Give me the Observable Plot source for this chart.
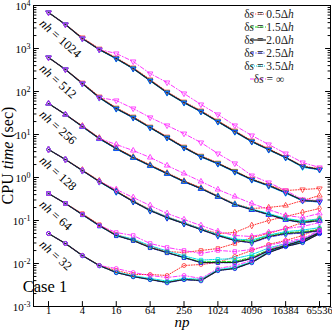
<!DOCTYPE html>
<html>
<head>
<meta charset="utf-8">
<script src="https://cdn.jsdelivr.net/npm/d3@7"></script>
<script src="https://cdn.jsdelivr.net/npm/@observablehq/plot@0.6"></script>
<style>
html,body{margin:0;padding:0;background:#fff;}
#chart svg{display:block;}
</style>
</head>
<body>
<div id="chart"></div>
<script>
// ---------------- data ----------------
const np = [1,2,4,8,16,32,64,128,256,512,1024,2048,4096,8192,16384,32768,65536];
const nhValues = [1024,512,256,128,64,32];
const seriesKeys = ["d05","d15","d20","d25","d35","dinf"];
const seriesLabels = ["0.5Δh","1.5Δh","2.0Δh","2.5Δh","3.5Δh","∞"];
const xTickValues = [1,4,16,64,256,1024,4096,16384,65536];
const yExponents = [-3,-2,-1,0,1,2,3,4];
const caseLabel = "Case 1";

const t1024_d05 = [6870,3610,1800,990,610,360,190,99,58,36,21,12.3,7.2,4.7,3.0,1.85,1.6];
const t1024_d15 = [6870,3610,1710,947,585,343,180,94.8,55.5,34.3,20.1,11.7,6.87,4.48,2.92,1.80,1.54];
const t1024_d20 = [6870,3610,1710,947,585,343,180,94.8,55.5,34.3,20.1,11.7,6.87,4.48,2.92,1.80,1.54];
const t1024_d25 = [6870,3610,1700,940,580,340,178,94,55,34,19.8,11.5,6.8,4.4,2.9,1.78,1.52];
const t1024_d35 = [6870,3610,1680,930,570,335,175,92,54,33.5,19.5,11.3,6.7,4.35,2.85,1.72,1.50];
const t1024_dinf = [6870,3610,1710,947,765,498,262,162,89.8,49.8,29.2,16.2,9.47,5.85,3.61,2.23,1.71];

const t512_d05 = [617,325,160,76,42,26,15.2,8.9,5.2,3.2,2.2,1.42,0.93,0.67,0.498,0.526,0.555];
const t512_d15 = [617,325,154,72.5,40.2,24.9,14.6,8.51,4.98,3.08,2.12,1.38,0.898,0.651,0.448,0.30,0.285];
const t512_d20 = [617,325,154,72.5,40.2,24.9,14.6,8.51,4.98,3.08,2.12,1.38,0.898,0.651,0.448,0.292,0.277];
const t512_d25 = [617,325,152,71.5,39.6,24.5,14.4,8.4,4.9,3.02,2.08,1.35,0.88,0.64,0.44,0.29,0.27];
const t512_d35 = [617,325,150,70.5,39,24.2,14.2,8.3,4.85,3.0,2.05,1.33,0.87,0.63,0.43,0.285,0.268];
const t512_dinf = [617,325,154,72.5,61.7,40.2,24.9,16.2,10.5,6.51,3.61,2.12,1.11,0.765,0.498,0.308,0.292];

const t256_d05 = [52.6,29.2,16.0,8.4,4.9,3.05,1.98,1.29,0.84,0.58,0.375,0.245,0.190,0.201,0.223,0.292,0.381];
const t256_d15 = [52.6,29.2,15.4,8.07,4.72,2.92,1.90,1.24,0.807,0.555,0.361,0.236,0.180,0.14,0.11,0.095,0.105];
const t256_d20 = [52.6,29.2,15.4,8.07,4.72,2.92,1.90,1.24,0.807,0.555,0.361,0.236,0.180,0.138,0.105,0.0898,0.1];
const t256_d25 = [52.6,29.2,15.2,7.95,4.65,2.88,1.87,1.22,0.795,0.545,0.355,0.232,0.176,0.135,0.103,0.088,0.098];
const t256_d35 = [52.6,29.2,15.0,7.85,4.6,2.85,1.85,1.21,0.79,0.55,0.365,0.24,0.185,0.145,0.112,0.098,0.11];
const t256_dinf = [52.6,29.2,15.4,8.07,5.85,4.24,2.92,1.90,1.24,0.807,0.526,0.361,0.249,0.180,0.131,0.117,0.146];

const t128_d05 = [4.48,2.62,1.5,0.84,0.49,0.29,0.18,0.122,0.089,0.065,0.0498,0.0526,0.0765,0.1,0.124,0.154,0.190];
const t128_d15 = [4.48,2.62,1.455,0.807,0.472,0.277,0.171,0.117,0.0852,0.0617,0.046,0.036,0.033,0.045,0.052,0.055,0.062];
const t128_d20 = [4.48,2.62,1.455,0.807,0.472,0.277,0.171,0.117,0.0852,0.0617,0.0448,0.0343,0.0308,0.0424,0.0498,0.0526,0.0585];
const t128_d25 = [4.48,2.62,1.44,0.80,0.465,0.273,0.168,0.115,0.084,0.061,0.044,0.034,0.030,0.041,0.048,0.051,0.057];
const t128_d35 = [4.48,2.62,1.43,0.79,0.46,0.28,0.176,0.121,0.088,0.064,0.047,0.037,0.035,0.046,0.055,0.060,0.068];
const t128_dinf = [4.48,2.62,1.455,0.807,0.526,0.343,0.223,0.146,0.105,0.0765,0.0555,0.0448,0.0424,0.0526,0.0651,0.0725,0.0898];

const t64_d05 = [0.424,0.249,0.145,0.08,0.047,0.036,0.025,0.019,0.0180,0.0201,0.0223,0.0292,0.0402,0.0498,0.0651,0.0898,0.111];
const t64_d15 = [0.424,0.249,0.138,0.0765,0.0448,0.0343,0.0236,0.0180,0.0138,0.011,0.011,0.0112,0.014,0.021,0.027,0.035,0.054];
const t64_d20 = [0.424,0.249,0.138,0.0765,0.0448,0.0343,0.0236,0.0180,0.0138,0.01055,0.01055,0.01055,0.0131,0.0201,0.0262,0.0343,0.0526];
const t64_d25 = [0.424,0.249,0.136,0.075,0.044,0.034,0.0232,0.0177,0.0136,0.0104,0.0104,0.0104,0.0128,0.0197,0.0258,0.034,0.052];
const t64_d35 = [0.424,0.249,0.135,0.074,0.046,0.037,0.026,0.0195,0.015,0.012,0.0125,0.013,0.016,0.023,0.029,0.036,0.056];
const t64_dinf = [0.424,0.249,0.138,0.0765,0.0526,0.0448,0.0292,0.0236,0.0201,0.0171,0.0201,0.0190,0.0212,0.0262,0.0325,0.0381,0.0585];

const t32_d05 = [0.0498,0.0292,0.0154,0.00898,0.00687,0.00555,0.00555,0.00526,0.00898,0.00948,0.01055,0.01455,0.0201,0.0277,0.0343,0.0448,0.0651];
const t32_d15 = [0.0498,0.0292,0.0154,0.00898,0.00617,0.00498,0.00424,0.0037,0.0043,0.0041,0.007,0.0078,0.0108,0.0185,0.0255,0.0315,0.051];
const t32_d20 = [0.0498,0.0292,0.0154,0.00898,0.00617,0.00498,0.00424,0.00361,0.00424,0.00402,0.00687,0.00765,0.01055,0.0180,0.0249,0.0308,0.0498];
const t32_d25 = [0.0498,0.0292,0.0152,0.0089,0.0061,0.0049,0.0042,0.00355,0.0042,0.00395,0.0068,0.0076,0.0104,0.0178,0.0246,0.0305,0.049];
const t32_d35 = [0.0498,0.0292,0.0152,0.0088,0.0064,0.0052,0.0045,0.0039,0.0045,0.0043,0.0072,0.0082,0.011,0.019,0.026,0.033,0.053];
const t32_dinf = [0.0498,0.0292,0.0154,0.00898,0.00765,0.00617,0.00526,0.00472,0.00526,0.00448,0.00765,0.00898,0.0117,0.0212,0.0292,0.0361,0.0555];

const seriesData = {
  1024: [t1024_d05,t1024_d15,t1024_d20,t1024_d25,t1024_d35,t1024_dinf],
  512: [t512_d05,t512_d15,t512_d20,t512_d25,t512_d35,t512_dinf],
  256: [t256_d05,t256_d15,t256_d20,t256_d25,t256_d35,t256_dinf],
  128: [t128_d05,t128_d15,t128_d20,t128_d25,t128_d35,t128_dinf],
  64: [t64_d05,t64_d15,t64_d20,t64_d25,t64_d35,t64_dinf],
  32: [t32_d05,t32_d15,t32_d20,t32_d25,t32_d35,t32_dinf]
};

// ---------------- styles ----------------
const FONT = "'Liberation Serif', 'Times New Roman', serif";
const sty = {
  d05: {stroke:"#ff3030", dash:"1,1.6", width:1, marker:true},
  d15: {stroke:"#00d800", dash:"3.5,1.5", width:0.9, marker:true},
  d20: {stroke:"#202020", dash:null, width:1.2, marker:false},
  d25: {stroke:"#1010ff", dash:"4,1.5,1,1.5", width:0.9, marker:true},
  d35: {stroke:"#00dcea", dash:"3,1,1,1,1,1", width:1, marker:true},
  dinf: {stroke:"#ff20ff", dash:"4,2,1,2", width:0.9, marker:true}
};
const symbolFor = {1024:"triangle",512:"triangle",256:"triangle",128:"diamond",64:"square",32:"circle"};
const rotateFor = {1024:180,512:180,256:0,128:0,64:0,32:0};

const rows = [];
for (const nh of nhValues) {
  seriesKeys.forEach((s, i) => {
    seriesData[nh][i].forEach((t, k) => rows.push({nh, s, np: np[k], t}));
  });
}
const drawOrder = ["d05","d15","d35","d25","dinf","d20"];

const yMajor = yExponents.map(e => Math.pow(10, e));
const yMinor = [];
for (let e = -3; e < 4; e++) for (let m = 2; m <= 9; m++) yMinor.push(m * Math.pow(10, e));

const tickShape = {draw(context, l) { context.moveTo(0, 0); context.lineTo(0, -l); }};
const vtick = (data, opts) => Plot.vector(data, {anchor: "start", shape: tickShape, stroke: "#000", strokeWidth: 1, ...opts});

const groupLabels = nhValues.map(nh => ({nh, np: np[0], t: seriesData[nh][2][0]}));

const chart = Plot.plot({
  width: 332, height: 330,
  marginLeft: 33, marginRight: 2, marginTop: 5, marginBottom: 24,
  style: {fontFamily: FONT, fontSize: "11px", background: "#fff", overflow: "visible"},
  x: {type: "log", domain: [0.541, 102760], axis: null},
  y: {type: "log", domain: [1e-3, 1e4], axis: null},
  marks: [
    ...drawOrder.map(s => Plot.line(rows.filter(r => r.s === s), {
      x: "np", y: "t", z: "nh", stroke: sty[s].stroke, strokeWidth: sty[s].width,
      strokeDasharray: sty[s].dash
    })),
    ...drawOrder.filter(s => sty[s].marker).map(s => Plot.dot(rows.filter(r => r.s === s), {
      x: "np", y: "t", symbol: r => symbolFor[r.nh], rotate: r => rotateFor[r.nh],
      stroke: sty[s].stroke, fill: "none", r: 2, strokeWidth: 0.8
    })),
    Plot.frame({stroke: "#000", strokeWidth: 1}),
    vtick(yMajor, {y: d => d, frameAnchor: "left", rotate: 90, length: 5}),
    vtick(yMinor, {y: d => d, frameAnchor: "left", rotate: 90, length: 2.5}),
    vtick(yMajor, {y: d => d, frameAnchor: "right", rotate: -90, length: 5}),
    vtick(yMinor, {y: d => d, frameAnchor: "right", rotate: -90, length: 2.5}),
    vtick(xTickValues, {x: d => d, frameAnchor: "bottom", rotate: 0, length: 5}),
    Plot.text(xTickValues, {x: d => d, frameAnchor: "bottom", dy: 7, text: d => String(d), fontSize: 10.5}),
    Plot.text(yExponents, {y: e => Math.pow(10, e), frameAnchor: "left", dx: -3, dy: 1, textAnchor: "end",
      text: e => "10^" + e, fontSize: 11}),
    Plot.text(groupLabels, {x: "np", y: "t", text: d => "nh = " + d.nh, rotate: 42, textAnchor: "start",
      dx: -7, dy: 9, fontSize: 12.5})
  ]
});

const svg = d3.select(chart);
svg.selectAll("text").each(function() {
  const el = d3.select(this);
  const s = this.textContent;
  let m;
  if ((m = s.match(/^10\^(-?\d+)$/))) {
    el.text(null);
    el.append("tspan").text("10");
    el.append("tspan").attr("dy", "-4").attr("font-size", "8").text(m[1]);
  } else if ((m = s.match(/^nh = (\d+)$/))) {
    el.text(null).style("white-space", "pre");
    el.append("tspan").attr("font-style", "italic").text("nh");
    el.append("tspan").text(" = " + m[1]);
  }
});

// axis titles and annotation
const g = svg.append("g").attr("font-family", FONT).attr("fill", "#000");
g.append("text").attr("x", 182).attr("y", 327).attr("text-anchor", "middle")
  .attr("font-size", 15).attr("font-style", "italic").text("np");
const yt = g.append("text").attr("transform", "translate(13,155.5) rotate(-90)")
  .attr("text-anchor", "middle").attr("font-size", 16).style("white-space", "pre");
yt.append("tspan").text("CPU ");
yt.append("tspan").attr("font-style", "italic").text("time");
yt.append("tspan").text(" (sec)");
g.append("text").attr("x", 45).attr("y", 292).attr("font-size", 16.5).text(caseLabel);

// legend
const leg = svg.append("g").attr("font-family", FONT).attr("font-size", 11.5).attr("fill", "#222");
seriesKeys.forEach((s, i) => {
  const y = 14 + i * 13;
  leg.append("line").attr("x1", 250).attr("x2", 266).attr("y1", y).attr("y2", y)
    .attr("stroke", sty[s].stroke).attr("stroke-width", sty[s].width)
    .attr("stroke-dasharray", sty[s].dash);
  const tx = leg.append("text").attr("x", 269).attr("y", y + 4).style("white-space", "pre");
  tx.append("tspan").text("δ");
  tx.append("tspan").attr("font-style", "italic").text("s");
  const lab = seriesLabels[i];
  if (lab === "∞") {
    tx.append("tspan").text(" = ∞");
  } else {
    tx.append("tspan").text(" = " + lab.slice(0, -1));
    tx.append("tspan").attr("font-style", "italic").text("h");
  }
});

document.getElementById("chart").appendChild(chart);
</script>
</body>
</html>
